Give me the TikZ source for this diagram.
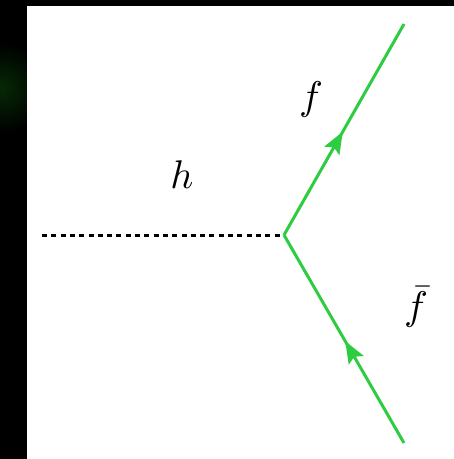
\documentclass[tikz,border=0pt]{standalone}
\usetikzlibrary{arrows.meta,decorations.markings}
\definecolor{fgreen}{RGB}{46,204,64}
\definecolor{glow}{RGB}{6,40,5}
\tikzset{
  fermion/.style={draw=fgreen, line width=3pt,
    postaction={decorate, decoration={markings,
      mark=at position 0.49 with {\arrow{Stealth[length=22pt,width=17pt,inset=4pt,fgreen]}}}}},
  scalar/.style={draw=black, line width=3pt, dash pattern=on 5pt off 4.3pt},
  lbl/.style={scale=4, inner sep=0pt}
}
\begin{document}
\begin{tikzpicture}[x=1pt,y=-1pt]
\useasboundingbox (0,0) rectangle (454,459);
\fill[black] (0,0) rectangle (454,459);
\begin{scope}
  \clip (0,0) rectangle (27,459);
  \shade[inner color=glow, outer color=black] (2,88) circle (45);
\end{scope}
\fill[white] (27,6) rectangle (454,459);
\coordinate (v) at (284,235);
\coordinate (hend) at (42,235);
\coordinate (ftop) at (404,24);
\coordinate (fbot) at (404,443);
\draw[scalar] (hend) -- (v);
\draw[fermion] (v) -- (ftop);
\draw[fermion] (fbot) -- (v);
\node[lbl] (h) at (182,175) {$h$};
\node[lbl] (f) at (311,99) {$f$};
\node[lbl] (fb) at (416,307) {$\bar{f}$};
\end{tikzpicture}
\end{document}
